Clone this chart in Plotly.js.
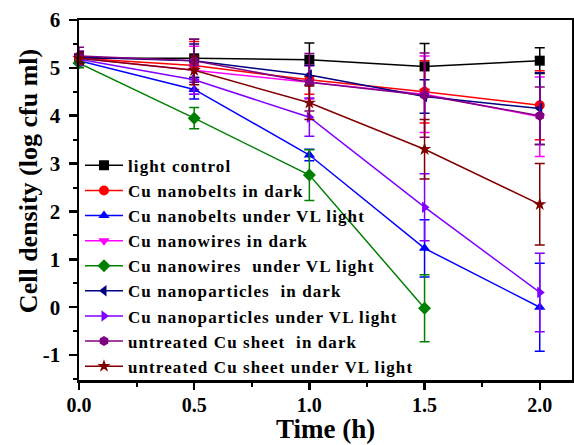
<!DOCTYPE html>
<html>
<head>
<meta charset="utf-8">
<script src="https://cdn.plot.ly/plotly-3.0.1.min.js"></script>
<style>
html,body{margin:0;padding:0;background:#fff;}
#chart{width:574px;height:445px;}
text.legendtext{letter-spacing:1.1px;}
</style>
</head>
<body>
<div id="chart"></div>
<script>
const time = [0, 0.5, 1.0, 1.5, 2.0];

const seriesNames = [
  "light control",
  "Cu nanobelts in dark",
  "Cu nanobelts under VL light",
  "Cu nanowires in dark",
  "Cu nanowires  under VL light",
  "Cu nanoparticles  in dark",
  "Cu nanoparticles under VL light",
  "untreated Cu sheet  in dark",
  "untreated Cu sheet under VL light"
];

const lightControl      = [5.20, 5.20, 5.17, 5.03, 5.15];
const nanobeltsDark     = [5.20, 5.05, 4.75, 4.50, 4.22];
const nanobeltsVL       = [5.15, 4.55, 3.18, 1.23, 0.00];
const nanowiresDark     = [5.20, 4.95, 4.70, 4.45, 3.98];
const nanowiresVL       = [5.10, 3.95, 2.76, -0.02, null];
const nanoparticlesDark = [5.22, 5.15, 4.85, 4.40, 4.15];
const nanoparticlesVL   = [5.18, 4.75, 3.97, 2.09, 0.31];
const sheetDark         = [5.25, 5.15, 4.70, 4.43, 4.00];
const sheetVL           = [5.20, 4.95, 4.27, 3.30, 2.15];

const lightControlErr      = [0.12, 0.40, 0.35, 0.48, 0.27];
const nanobeltsDarkErr     = [0.12, 0.50, 0.30, 0.65, 0.72];
const nanobeltsVLErr       = [0.10, 0.20, 0.12, 0.60, 0.92];
const nanowiresDarkErr     = [0.15, 0.50, 0.35, 0.80, 0.83];
const nanowiresVLErr       = [0.10, 0.22, 0.53, 0.70, null];
const nanoparticlesDarkErr = [0.12, 0.35, 0.20, 0.35, 0.75];
const nanoparticlesVLErr   = [0.12, 0.30, 0.40, 0.70, 0.82];
const sheetDarkErr         = [0.18, 0.45, 0.60, 0.88, 0.60];
const sheetVLErr           = [0.12, 0.30, 0.35, 0.62, 0.85];

const yTickVals = [-1, 0, 1, 2, 3, 4, 5, 6];
const yTickText = ["-1", "0", "1", "2", "3", "4", "5", "6"];
const xTickVals = [0, 0.5, 1.0, 1.5, 2.0];
const xTickText = ["0.0", "0.5", "1.0", "1.5", "2.0"];

const values = [lightControl, nanobeltsDark, nanobeltsVL, nanowiresDark, nanowiresVL,
                nanoparticlesDark, nanoparticlesVL, sheetDark, sheetVL];
const errors = [lightControlErr, nanobeltsDarkErr, nanobeltsVLErr, nanowiresDarkErr, nanowiresVLErr,
                nanoparticlesDarkErr, nanoparticlesVLErr, sheetDarkErr, sheetVLErr];
const colors = ["#000000", "#ff0000", "#0000ff", "#ff00ff", "#008000",
                "#000080", "#8000ff", "#800080", "#800000"];
const symbols = ["square", "circle", "triangle-up", "triangle-down", "diamond",
                 "triangle-left", "triangle-right", "hexagon", "star"];

const traces = values.map((v, i) => ({
  x: time,
  y: v,
  name: seriesNames[i],
  type: "scatter",
  mode: "lines+markers",
  legendgroup: "g" + i,
  cliponaxis: false,
  line: {color: colors[i], width: 1.5},
  marker: {color: colors[i], symbol: symbols[i], size: 10},
  error_y: {type: "data", array: errors[i], visible: true, color: colors[i], thickness: 1.5, width: 5}
}));

const fam = "Liberation Serif, Times New Roman, serif";

const layout = {
  width: 574, height: 445,
  margin: {l: 79, r: 2, t: 20, b: 65},
  paper_bgcolor: "#fff", plot_bgcolor: "#fff",
  font: {family: fam, color: "#000"},
  showlegend: true,
  legend: {
    x: 0.002, y: 0.645, xanchor: "left", yanchor: "top",
    bgcolor: "rgba(0,0,0,0)",
    traceorder: "grouped", tracegroupgap: 0,
    font: {family: fam, size: 17, weight: "bold", color: "#000"},
    itemwidth: 38
  },
  xaxis: {
    range: [0, 2.14],
    tickmode: "array", tickvals: xTickVals, ticktext: xTickText,
    ticks: "outside", ticklen: 7, tickwidth: 2.5, tickcolor: "#000",
    minor: {tickmode: "linear", tick0: 0, dtick: 0.25, ticks: "outside", ticklen: 4, tickwidth: 2, tickcolor: "#000", showgrid: false},
    showline: true, linewidth: 2.5, linecolor: "#000", mirror: true,
    showgrid: false, zeroline: false,
    ticklabelstandoff: -2,
    tickfont: {family: fam, size: 20, weight: "bold", color: "#000"}
  },
  yaxis: {
    range: [-1.52, 6],
    tickmode: "array", tickvals: yTickVals, ticktext: yTickText,
    ticks: "outside", ticklen: 8, tickwidth: 2.5, tickcolor: "#000",
    minor: {tickmode: "linear", tick0: 0, dtick: 0.5, ticks: "outside", ticklen: 4, tickwidth: 2, tickcolor: "#000", showgrid: false},
    showline: true, linewidth: 2.5, linecolor: "#000", mirror: true,
    showgrid: false, zeroline: false,
    ticklabelstandoff: 4,
    tickfont: {family: fam, size: 21, weight: "bold", color: "#000"}
  },
  annotations: [{
    text: "Cell density (log cfu ml)",
    xref: "paper", yref: "paper",
    x: -0.101, y: 0.553, xanchor: "center", yanchor: "middle",
    textangle: -90, showarrow: false,
    font: {family: fam, size: 26, weight: "bold", color: "#000"}
  }, {
    text: "Time (h)",
    xref: "paper", yref: "paper",
    x: 0.5, y: -0.181, xanchor: "center", yanchor: "bottom",
    showarrow: false, borderpad: 0,
    font: {family: fam, size: 27, weight: "bold", color: "#000"}
  }]
};

Plotly.newPlot("chart", traces, layout, {displayModeBar: false, staticPlot: true});
</script>
</body>
</html>
